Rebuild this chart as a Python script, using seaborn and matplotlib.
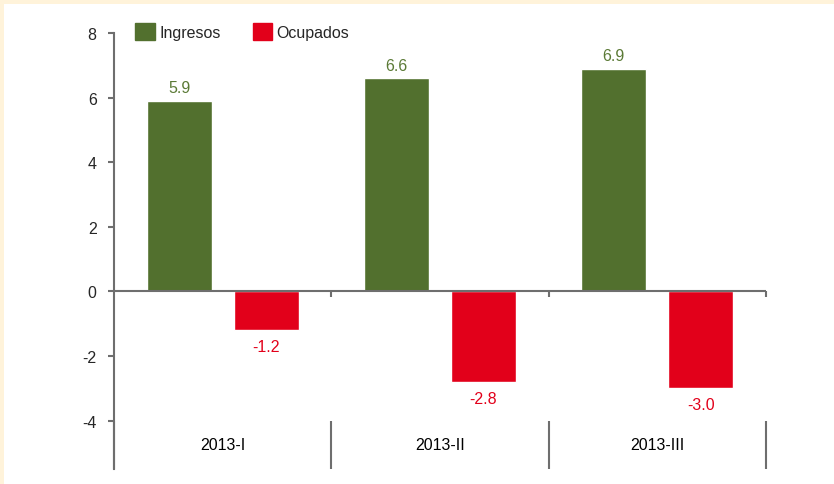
import pandas as pd
import matplotlib.pyplot as plt
import matplotlib.patches as mpatches
import seaborn as sns

# --- datos ---
periodos = ['2013-I', '2013-II', '2013-III']
ingresos = [5.9, 6.6, 6.9]
ocupados = [-1.2, -2.8, -3.0]
series = ['Ingresos', 'Ocupados']
y_ticks = [-4, -2, 0, 2, 4, 6, 8]

verde = '#52702E'
rojo = '#E2001A'
gris = '#6E6E6E'
crema = '#FFF3DA'

df = pd.DataFrame({
    'periodo': periodos * 2,
    'serie': [series[0]] * 3 + [series[1]] * 3,
    'valor': ingresos + ocupados,
})

sns.set_style('white')
plt.rcParams['font.family'] = ['Liberation Sans Narrow', 'Liberation Sans', 'DejaVu Sans']
fs = 11.5

fig = plt.figure(figsize=(8.34, 4.85), dpi=100, facecolor=crema)
# zona blanca dentro del borde crema
fondo = mpatches.Rectangle((4 / 834, 0), 1, 1 - 5 / 485, transform=fig.transFigure,
                           facecolor='white', edgecolor='none', zorder=-10)
fig.patches.append(fondo)
ax = fig.add_axes([114 / 834, 15 / 485, (766 - 114) / 834, (470 - 34) / 485])
ax.set_facecolor('none')

sns.barplot(data=df, x='periodo', y='valor', hue='serie', palette=[verde, rojo],
            width=0.8, gap=0.25, ax=ax, legend=False, saturation=1)

ax.set_xlim(-0.5, len(periodos) - 0.5)
ax.set_ylim(-5.5, 8)

# eje y
for s in ['top', 'right', 'bottom']:
    ax.spines[s].set_visible(False)
ax.spines['left'].set_color(gris)
ax.spines['left'].set_linewidth(1.5)
ax.spines['left'].set_bounds(-5.5, 8)
ax.set_yticks(y_ticks)
ax.set_yticklabels([str(t) for t in y_ticks], fontsize=fs)
ax.tick_params(axis='y', direction='out', length=4.5, width=1.5, color=gris, pad=8, left=True)
ax.set_xticks([])
ax.set_xlabel('')
ax.set_ylabel('')

# línea de cero y separadores de categorías
ax.axhline(0, color=gris, lw=1.5, zorder=1)
for i in range(len(periodos) + 1):
    x = i - 0.5
    ax.plot([x, x], [-5.5, -4], color=gris, lw=1.5, clip_on=False, solid_capstyle='butt')
    if i > 0:
        ax.plot([x, x], [0, -0.18], color=gris, lw=1.5, clip_on=False, solid_capstyle='butt')

# etiquetas de categorías
for i, p in enumerate(periodos):
    ax.text(i, -4.75, p, ha='center', va='center', fontsize=fs, color='black')

# etiquetas de datos
for i, v in enumerate(ingresos):
    ax.annotate(f'{v:.1f}', (i - 0.2, v), xytext=(0, 4), textcoords='offset points',
                ha='center', va='bottom', fontsize=fs, color='#5B7A36')
for i, v in enumerate(ocupados):
    ax.annotate(f'{v:.1f}', (i + 0.2, v), xytext=(0, -6.5), textcoords='offset points',
                ha='center', va='top', fontsize=fs, color=rojo)

# leyenda
handles = [mpatches.Patch(color=verde, label=series[0]), mpatches.Patch(color=rojo, label=series[1])]
ax.legend(handles=handles, loc='upper left', bbox_to_anchor=(0.023, 1.037), ncol=2, frameon=False,
          fontsize=fs, handlelength=1.2, handleheight=1.2, handletextpad=0.3, columnspacing=2.0,
          borderaxespad=0)

fig.savefig('out.png', dpi=100, facecolor=crema)
